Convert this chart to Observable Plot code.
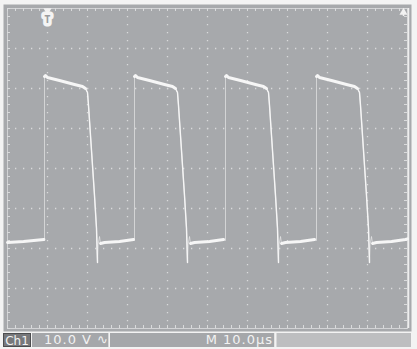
<!DOCTYPE html>
<html>
<head>
<meta charset="utf-8">
<script src="https://cdn.jsdelivr.net/npm/d3@7"></script>
<script src="https://cdn.jsdelivr.net/npm/@observablehq/plot@0.6"></script>
<style>
  html, body { margin: 0; padding: 0; background: #f3f3f3; }
  #wrap { position: relative; width: 417px; height: 349px; overflow: hidden; font-family: "DejaVu Sans", sans-serif; }
  #bar { position: absolute; left: 0; top: 333px; width: 417px; height: 16px; }
  .box { position: absolute; top: 0; height: 14px; box-sizing: border-box; color: #f2f2f2; font-size: 13px; line-height: 14px; white-space: pre; }
</style>
</head>
<body>
<div id="wrap">
  <div id="plot"></div>
  <div id="bar">
    <div class="box" style="left:3px;width:28px;background:#77787b;border:1px solid #4c4d4f;text-align:center;font-size:12px;">Ch1</div>
    <div class="box" style="left:32px;width:77px;background:#a5a7aa;border-right:1px solid #d6d7d8;padding-left:12px;letter-spacing:1px;">10.0 V ∿</div>
    <div class="box" style="left:110px;width:165px;background:#a5a7aa;border-right:1px solid #e4e4e4;text-align:right;padding-right:1px;letter-spacing:1px;">M 10.0µs</div>
    <div class="box" style="left:276px;width:135px;background:#bdbec0;border-left:1px solid #d8d8d8;"></div>
  </div>
</div>
<script>
// Axes: 10 µs/div horizontally, 10 V/div vertically
const timeDomain = [0, 100];
const voltDomain = [-40, 40];
const majorT = [10, 20, 30, 40, 50, 60, 70, 80, 90];
const majorV = [-30, -20, -10, 0, 10, 20, 30];
const minorT = d3.range(0, 100.01, 2);
const minorV = d3.range(-40, 40.01, 2);

// Waveform
const riseTimes = [9.25, 31.75, 54.5, 77.25];   // µs, rising edges
const shapeDt = [0, 0, 0.25, 0.75, 3.75, 7.5, 9.5, 10.25, 10.75, 11, 11.75, 12.5, 13, 13.25, 13.4, 13.75, 14, 15, 18.75, 22.25];
const shapeV  = [-18, 23, 23.25, 22.75, 22, 21, 20.5, 20, 19, 15.75, 4.5, -6.75, -15, -23.5, -19, -17, -18.75, -18.5, -18.25, -17.75];
const leadT = [0, 4, 9.1];
const leadV = [-18.5, -18.25, -17.75];
const tailT = [100];
const tailV = [-17.6];
const highIdx = [1, 2, 3, 4, 5, 6, 7];
const fallIdx = [6, 7, 8, 9, 10, 11, 12, 13];
const lowIdx = [16, 17, 18, 19];
const triggerT = 10;

const trace = [];
leadT.forEach((t, i) => trace.push({t, v: leadV[i]}));
riseTimes.forEach(r => shapeDt.forEach((dt, i) => trace.push({t: r + dt, v: shapeV[i]})));
tailT.forEach((t, i) => trace.push({t, v: tailV[i]}));

const pick = (idx, tag) => riseTimes.flatMap((r, k) => idx.map(i => ({seg: tag + k, t: r + shapeDt[i], v: shapeV[i]})));
const falls = pick(fallIdx, "f");
const bands = [
  ...leadT.map((t, i) => ({seg: "lead", t, v: leadV[i]})),
  ...pick(highIdx, "h"),
  ...pick(lowIdx, "l"),
  {seg: "l3", t: tailT[0], v: tailV[0]}
];

const grid = "#d9dadb";
const tickLen = 0.75;

const chart = Plot.plot({
  width: 417,
  height: 333,
  marginLeft: 7,
  marginRight: 10,
  marginTop: 8,
  marginBottom: 5,
  x: {domain: timeDomain, axis: null},
  y: {domain: voltDomain, axis: null},
  style: {background: "transparent", overflow: "visible"},
  marks: [
    Plot.frame({fill: "#a7a9ac", stroke: null, inset: -4, insetBottom: -3}),
    Plot.ruleX(majorT, {stroke: grid, strokeWidth: 1.3, strokeDasharray: "1.3,6.7"}),
    Plot.ruleY(majorV, {stroke: grid, strokeWidth: 1.3, strokeDasharray: "1.3,6.7"}),
    Plot.frame({stroke: "#d2d3d5", strokeWidth: 1}),
    Plot.ruleX(minorT, {x: d => d, y1: voltDomain[1], y2: voltDomain[1] - tickLen, stroke: grid}),
    Plot.ruleX(minorT, {x: d => d, y1: voltDomain[0], y2: voltDomain[0] + tickLen, stroke: grid}),
    Plot.ruleY(minorV, {y: d => d, x1: timeDomain[0], x2: timeDomain[0] + tickLen, stroke: grid}),
    Plot.ruleY(minorV, {y: d => d, x1: timeDomain[1], x2: timeDomain[1] - tickLen, stroke: grid}),
    Plot.ruleX([timeDomain[1]], {stroke: "#eeeeee", strokeWidth: 1.5, dx: 1}),
    Plot.line(trace, {x: "t", y: "v", stroke: "#eeeeee", strokeWidth: 0.9, strokeOpacity: 0.7}),
    Plot.line(falls, {x: "t", y: "v", z: "seg", stroke: "#f6f6f6", strokeWidth: 1.4}),
    Plot.line(bands, {x: "t", y: "v", z: "seg", stroke: "#f6f6f6", strokeWidth: 3, strokeLinecap: "round"}),
    Plot.dot([triggerT], {x: d => d, y: voltDomain[1], symbol: "triangle", rotate: 180, r: 3, fill: "#f2f2f2", dy: 2}),
    Plot.text([triggerT], {x: d => d, y: voltDomain[1], text: () => "T", dy: 11, fontSize: 10, fontWeight: "bold", fill: "#9a9c9f", stroke: "#f4f4f4", strokeWidth: 7, strokeLinejoin: "round"}),
    Plot.dot([timeDomain[1]], {x: d => d, y: voltDomain[1], symbol: "triangle", r: 3, fill: "#f2f2f2", dx: -4, dy: 4}),
    Plot.ruleX([timeDomain[1]], {y1: voltDomain[1] - 1, y2: voltDomain[1] - 2, stroke: "#f2f2f2", strokeWidth: 1.5, dx: -4})
  ]
});
document.getElementById("plot").appendChild(chart);
</script>
</body>
</html>
